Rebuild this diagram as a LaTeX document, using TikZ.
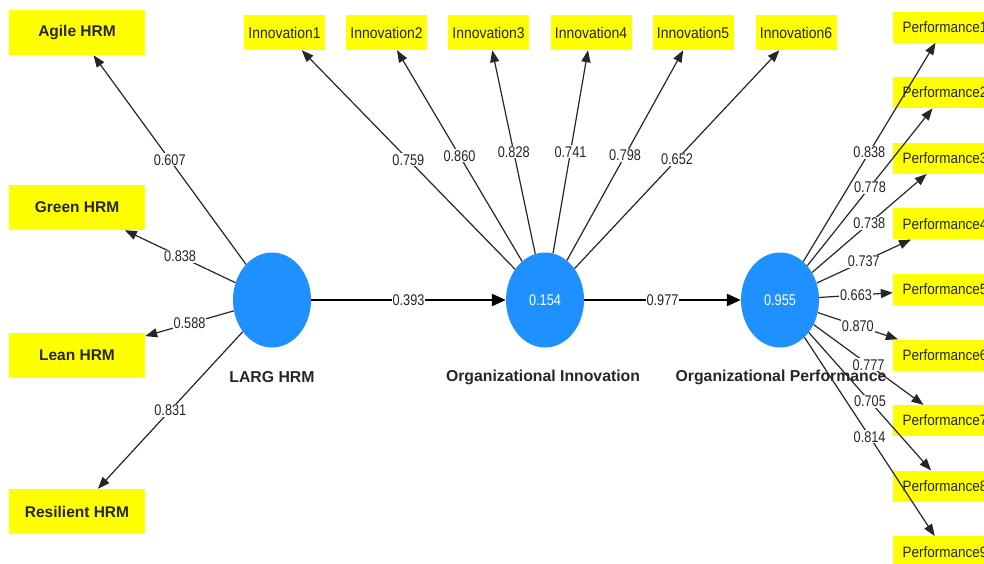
\documentclass[tikz,border=0pt]{standalone}
\usepackage{fontspec}
\setmainfont{Liberation Sans}
\newfontfamily\coeffont[FakeStretch=0.82]{Liberation Sans}
\newfontfamily\indfont[FakeStretch=0.9]{Liberation Sans}
\usetikzlibrary{shapes.geometric,arrows.meta}
\definecolor{lvblue}{RGB}{30,144,255}
\definecolor{boxyellow}{RGB}{255,255,0}
\begin{document}
\begin{tikzpicture}[x=1pt,y=-1pt,
  lv/.style={ellipse, fill=lvblue, minimum width=78pt, minimum height=95pt, inner sep=0pt, text=white, font=\coeffont\fontsize{15.5}{18}\selectfont},
  lvname/.style={font=\bfseries\fontsize{15.8}{19}\selectfont, text=black!85},
  hrmbox/.style={fill=boxyellow, minimum width=136pt, minimum height=45pt, inner sep=0pt, font=\bfseries\fontsize{15.5}{18}\selectfont, text=black!85},
  innobox/.style={fill=boxyellow, minimum width=81pt, minimum height=35pt, inner sep=0pt, font=\indfont\fontsize{15.5}{18}\selectfont, text=black!85},
  perfbox/.style={fill=boxyellow, minimum width=104pt, minimum height=31pt, inner sep=0pt, font=\indfont\fontsize{15}{18}\selectfont, text=black!85},
  load/.style={draw=black!85, line width=1.2pt, -{Triangle[length=12pt,width=9pt]}},
  structarrow/.style={draw=black, line width=2.5pt, -{Triangle[length=14pt,width=12pt]}},
  coef/.style={fill=white, inner sep=1pt, font=\coeffont\fontsize{15.5}{18}\selectfont, text=black!85}
]
\useasboundingbox (0,0) rectangle (984,563);
\clip (0,0) rectangle (984,563);

% latent variables
\node[lv] (larg) at (272,300) {};
\node[lv] (oi) at (545,300) {0.154};
\node[lv] (op) at (780,300) {0.955};
\node[lvname] (largname) at (272,377) {LARG HRM};
\node[lvname] (oiname) at (543,377) {Organizational Innovation};
\node[lvname] (opname) at (781,377) {Organizational Performance};

% LARG indicators
\node[hrmbox] (agile) at (77,32.5) {Agile HRM};
\node[hrmbox] (green) at (77,207.5) {Green HRM};
\node[hrmbox] (lean) at (77,355.5) {Lean HRM};
\node[hrmbox] (resil) at (77,511.5) {Resilient HRM};

% Innovation indicators
\node[innobox] (i1) at (284.5,32.5) {Innovation1};
\node[innobox] (i2) at (386.5,32.5) {Innovation2};
\node[innobox] (i3) at (488.5,32.5) {Innovation3};
\node[innobox] (i4) at (591,32.5) {Innovation4};
\node[innobox] (i5) at (693,32.5) {Innovation5};
\node[innobox] (i6) at (796,32.5) {Innovation6};

% Performance indicators
\node[perfbox] (p1) at (945,27) {Performance1};
\node[perfbox] (p2) at (945,92.6) {Performance2};
\node[perfbox] (p3) at (945,158.2) {Performance3};
\node[perfbox] (p4) at (945,223.8) {Performance4};
\node[perfbox] (p5) at (945,289.4) {Performance5};
\node[perfbox] (p6) at (945,355) {Performance6};
\node[perfbox] (p7) at (945,420.6) {Performance7};
\node[perfbox] (p8) at (945,486.2) {Performance8};
\node[perfbox] (p9) at (945,551.8) {Performance9};

% loadings LARG
\draw[load] (larg) -- node[coef] {0.607} (agile);
\draw[load] (larg) -- node[coef] {0.838} (green);
\draw[load] (larg) -- node[coef] {0.588} (lean);
\draw[load] (larg) -- node[coef] {0.831} (resil);

% loadings Innovation
\draw[load] (oi) -- node[coef] {0.759} (i1);
\draw[load] (oi) -- node[coef] {0.860} (i2);
\draw[load] (oi) -- node[coef] {0.828} (i3);
\draw[load] (oi) -- node[coef] {0.741} (i4);
\draw[load] (oi) -- node[coef] {0.798} (i5);
\draw[load] (oi) -- node[coef] {0.652} (i6);

% loadings Performance
\draw[load] (op) -- node[coef] {0.838} (p1);
\draw[load] (op) -- node[coef] {0.778} (p2);
\draw[load] (op) -- node[coef] {0.738} (p3);
\draw[load] (op) -- node[coef] {0.737} (p4);
\draw[load] (op) -- node[coef] {0.663} (p5);
\draw[load] (op) -- node[coef] {0.870} (p6);
\draw[load] (op) -- node[coef] {0.777} (p7);
\draw[load] (op) -- node[coef] {0.705} (p8);
\draw[load] (op) -- node[coef] {0.814} (p9);

% structural paths
\draw[structarrow] (larg) -- node[coef] {0.393} (oi);
\draw[structarrow] (oi) -- node[coef] {0.977} (op);
\end{tikzpicture}
\end{document}
